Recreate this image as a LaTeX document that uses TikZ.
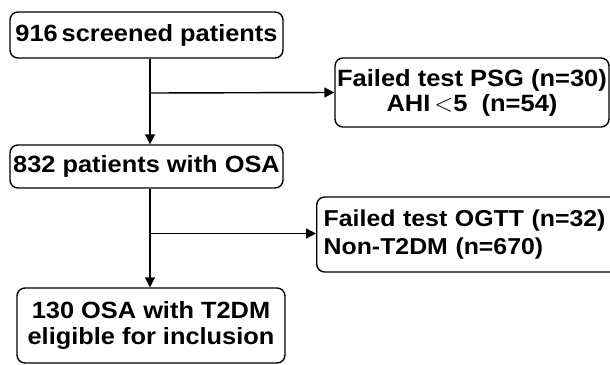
\documentclass[tikz,border=0pt]{standalone}
\usepackage{fontspec}
\setmainfont[FakeStretch=1.08]{Liberation Sans}
\usetikzlibrary{arrows.meta}

\tikzset{
  stage/.style={draw, line width=1.4pt, rounded corners=8pt, inner sep=0pt,
    align=center, font=\bfseries\fontsize{23.5}{26}\selectfont},
  excl/.style={stage, font=\bfseries\fontsize{23.6}{25}\selectfont},
  flow/.style={line width=1.4pt, -{Triangle[length=10pt,width=10pt]}},
}

\begin{document}
\begin{tikzpicture}[x=1pt, y=-1pt]
    \useasboundingbox (0,0) rectangle (610,364);

    % Main flow boxes
    \node[stage, minimum width=273pt, minimum height=46pt] (screen) at (146.5,35) {916\,screened patients};
    \node[stage, minimum width=273pt, minimum height=43pt] (osa) at (146.5,166.5) {832 patients with OSA};
    \node[stage, minimum width=268pt, minimum height=75pt] (t2dm) at (151,325.5) {130 OSA with T2DM\\eligible for inclusion};

    % Exclusion boxes
    \node[excl, minimum width=274pt, minimum height=69pt] (psg) at (472,92.5)
          {Failed test PSG (n=30)\\AHI\,{\mdseries\fontsize{29}{25}\selectfont$<$}5 \ (n=54)};
    \node[excl, anchor=west, align=left, minimum height=75pt, inner xsep=7pt, text width=292pt,
          font=\bfseries\fontsize{23}{28}\selectfont] (ogtt) at (316,234.5)
          {Failed test OGTT (n=32)\\Non-T2DM (n=670)};

    % Trunk and branch points
    \coordinate (trunk) at (150,0);
    \coordinate (cut1) at (150,93);
    \coordinate (cut2) at (150,233.5);

    \draw[flow] (screen.south -| trunk) -- (osa.north -| trunk);
    \draw[flow] (osa.south -| trunk) -- (t2dm.north -| trunk);
    \draw[flow] (cut1) -- (psg.west);
    \draw[flow] (cut2) -- (cut2 -| ogtt.west);

\end{tikzpicture}
\end{document}
